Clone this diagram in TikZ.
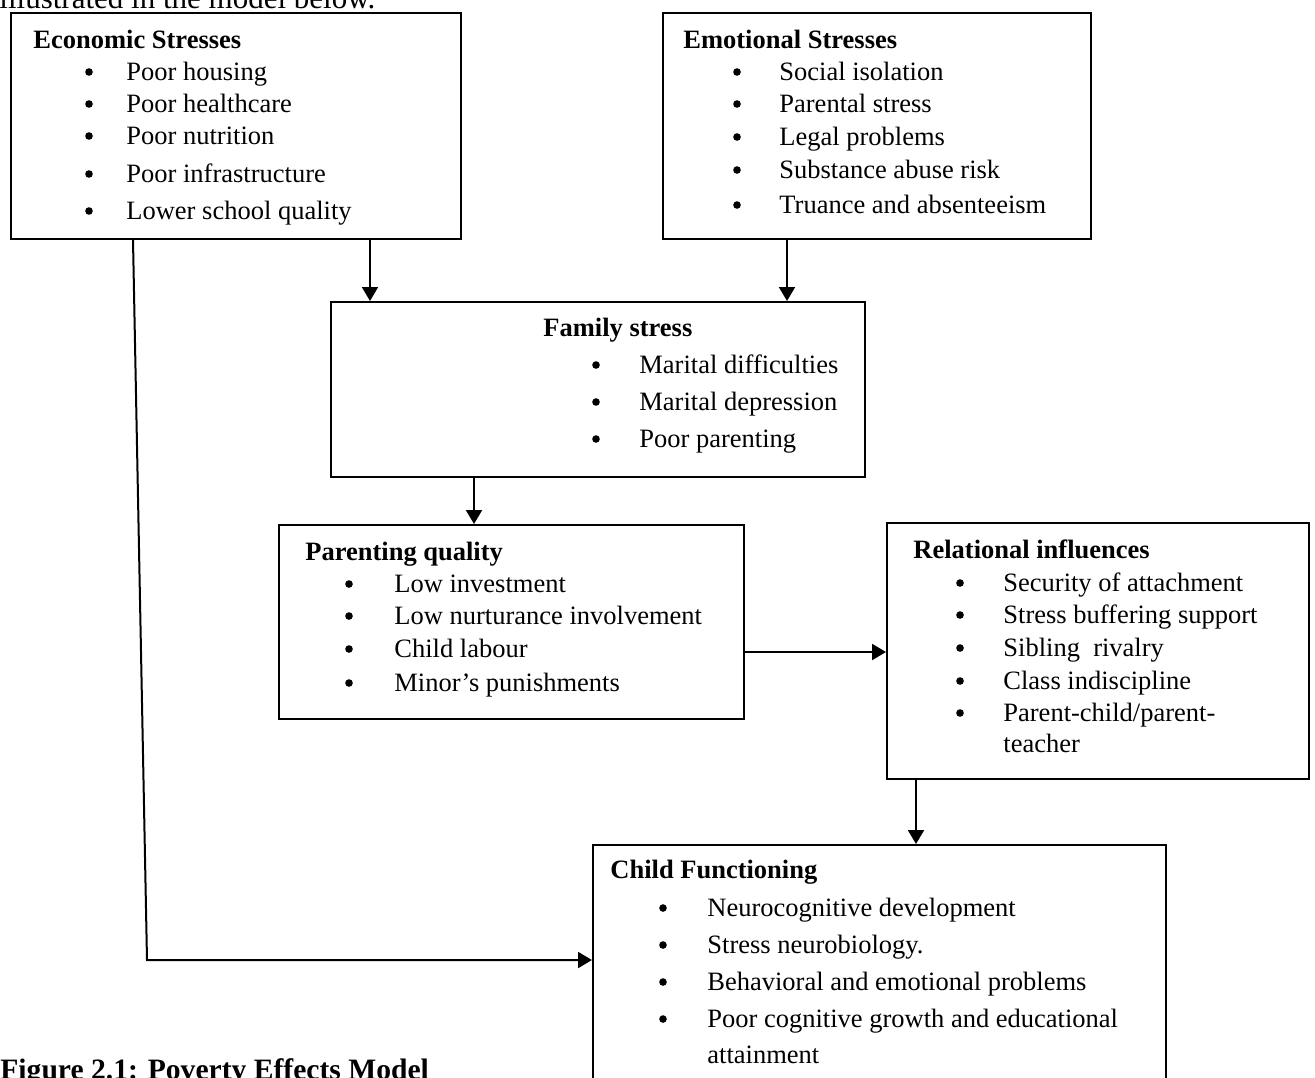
\documentclass[tikz,border=0pt]{standalone}
\usepackage{fontspec}
\setmainfont{Liberation Serif}
\usetikzlibrary{arrows.meta}
\newcommand\blt[5]{\fill (#1,#3-8) circle (1.9pt); \node[txt] (#5) at (#2,#3) {#4};}
\begin{document}
\begin{tikzpicture}[x=0.5pt,y=-0.5pt,
  box/.style={draw,line width=1pt,inner sep=0pt,anchor=north west},
  txt/.style={anchor=base west,inner sep=0pt,font=\fontsize{13.25}{15}\selectfont},
  ttl/.style={txt,font=\fontsize{13.25}{15}\selectfont\bfseries},
  arr/.style={line width=1pt,-{Triangle[length=7pt,width=8pt]}}]
\useasboundingbox (0,0) rectangle (1315,1077);
\clip (0,0) rectangle (1315,1077);
% cut-off page text
\node[anchor=base west,inner sep=0pt,font=\fontsize{15.5}{18}\selectfont] (intro) at (-1,8) {illustrated in the model below.};
\node[anchor=base west,inner sep=0pt,font=\fontsize{14.8}{18}\selectfont\bfseries] (cap) at (0,1079) {Figure 2.1: Poverty Effects Model};
% boxes
\node[box,minimum width=225pt,minimum height=113pt] (econ) at (10,12) {};
\node[box,minimum width=214pt,minimum height=113pt] (emo) at (662,12) {};
\node[box,minimum width=267pt,minimum height=87.5pt] (fam) at (330,301) {};
\node[box,minimum width=232.5pt,minimum height=97pt] (par) at (278,524) {};
\node[box,minimum width=211pt,minimum height=128pt] (rel) at (886,522) {};
\node[box,minimum width=286.5pt,minimum height=130pt] (child) at (592,844) {};
% Economic
\node[ttl] (econT) at (33,48) {Economic Stresses};
\blt{89}{126}{80}{Poor housing}{e1}
\blt{89}{126}{112}{Poor healthcare}{e2}
\blt{89}{126}{144}{Poor nutrition}{e3}
\blt{89}{126}{182}{Poor infrastructure}{e4}
\blt{89}{126}{219}{Lower school quality}{e5}
% Emotional
\node[ttl] (emoT) at (683,48) {Emotional Stresses};
\blt{737}{779}{80}{Social isolation}{m1}
\blt{737}{779}{112}{Parental stress}{m2}
\blt{737}{779}{145}{Legal problems}{m3}
\blt{737}{779}{178}{Substance abuse risk}{m4}
\blt{737}{779}{213}{Truance and absenteeism}{m5}
% Family
\node[ttl] (famT) at (543,336) {Family stress};
\blt{596}{639}{373}{Marital difficulties}{f1}
\blt{596}{639}{410}{Marital depression}{f2}
\blt{596}{639}{447}{Poor parenting}{f3}
% Parenting
\node[ttl] (parT) at (305,560) {Parenting quality};
\blt{349}{394}{592}{Low investment}{p1}
\blt{349}{394}{624}{Low nurturance involvement}{p2}
\blt{349}{394}{657}{Child labour}{p3}
\blt{349}{394}{691}{Minor’s punishments}{p4}
% Relational
\node[ttl] (relT) at (913,558) {Relational influences};
\blt{960}{1003}{591}{Security of attachment}{r1}
\blt{960}{1003}{623}{Stress buffering support}{r2}
\blt{960}{1003}{656}{Sibling\ \ rivalry}{r3}
\blt{960}{1003}{689}{Class indiscipline}{r4}
\blt{960}{1003}{721}{Parent-child/parent-}{r5}
\node[txt] (r5b) at (1003,752) {teacher};
% Child
\node[ttl] (childT) at (610,878) {Child Functioning};
\blt{663}{707}{916}{Neurocognitive development}{c1}
\blt{663}{707}{953}{Stress neurobiology.}{c2}
\blt{663}{707}{990}{Behavioral and emotional problems}{c3}
\blt{663}{707}{1027}{Poor cognitive growth and educational}{c4}
\node[txt] (c4b) at (707,1063) {attainment};
% connectors
\coordinate (xa) at (370,0);
\coordinate (xb) at (787,0);
\coordinate (xc) at (474,0);
\coordinate (yd) at (0,652);
\coordinate (xe) at (916,0);
\coordinate (xf) at (133,0);
\coordinate (bend) at (147,960);
\draw[arr] (xa |- econ.south) -- (xa |- fam.north);
\draw[arr] (xb |- emo.south) -- (xb |- fam.north);
\draw[arr] (xc |- fam.south) -- (xc |- par.north);
\draw[arr] (yd -| par.east) -- (yd -| rel.west);
\draw[arr] (xe |- rel.south) -- (xe |- child.north);
\draw[arr] (xf |- econ.south) -- (bend) -- (bend -| child.west);
\end{tikzpicture}
\end{document}
